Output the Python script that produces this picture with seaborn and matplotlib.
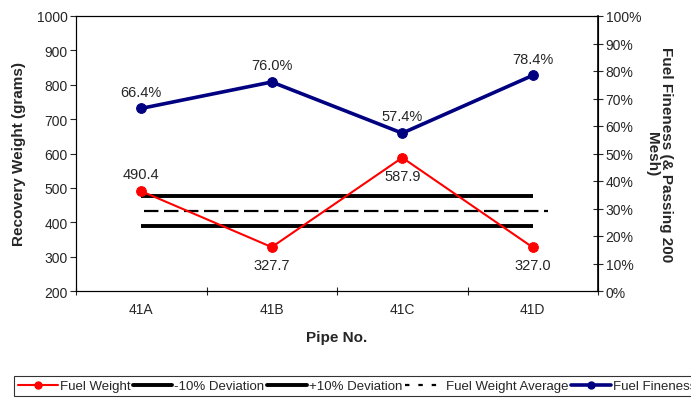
import pandas as pd
import matplotlib.pyplot as plt
import matplotlib.ticker as mticker
from matplotlib.lines import Line2D
import seaborn as sns

# Data
pipes = ["41A", "41B", "41C", "41D"]
fuel_weight = [490.4, 327.7, 587.9, 327.0]
fineness = [66.4, 76.0, 57.4, 78.4]
weight_label_pos = ["above", "below", "below", "below"]

avg = sum(fuel_weight) / len(fuel_weight)
dev_low = avg * 0.9
dev_high = avg * 1.1

df = pd.DataFrame({"Pipe": pipes, "Weight": fuel_weight, "Fineness": fineness})

sns.set_style("ticks")
plt.rcParams["font.family"] = ["Liberation Sans", "DejaVu Sans"]

fig = plt.figure(figsize=(6.91, 4.02), dpi=100)
ax = fig.add_axes([76/691, 1-292/402, 522/691, 275/402])
ax2 = ax.twinx()

RED = "#ff0000"
NAVY = "#000080"

# +/- 10% deviation and average lines
ax.hlines([dev_low, dev_high], 0, 3, color="black", lw=2.8, zorder=2)
ax.hlines(avg, 0.02, 3.12, color="black", lw=1.6, linestyles=(0, (6.5, 2.5)), zorder=2)

sns.lineplot(data=df, x="Pipe", y="Weight", ax=ax, color=RED, lw=1.5,
             marker="o", markersize=7, markeredgecolor=RED, zorder=3)
sns.lineplot(data=df, x="Pipe", y="Fineness", ax=ax2, color=NAVY, lw=2.6,
             marker="o", markersize=7, markeredgecolor=NAVY, zorder=3)

for i, (w, pos) in enumerate(zip(fuel_weight, weight_label_pos)):
    if pos == "above":
        ax.annotate(f"{w:.1f}", (i, w), xytext=(0, 7), textcoords="offset points",
                    ha="center", va="bottom", fontsize=10.5)
    else:
        ax.annotate(f"{w:.1f}", (i, w), xytext=(0, -8), textcoords="offset points",
                    ha="center", va="top", fontsize=10.5)

for i, f in enumerate(fineness):
    ax2.annotate(f"{f:.1f}%", (i, f), xytext=(0, 7), textcoords="offset points",
                 ha="center", va="bottom", fontsize=10.5)

ax.set_xlim(-0.5, 3.5)
ax.set_ylim(200, 1000)
ax.set_yticks(range(200, 1001, 100))
ax2.set_ylim(0, 100)
ax2.set_yticks(range(0, 101, 10))
ax2.yaxis.set_major_formatter(mticker.FuncFormatter(lambda v, p: f"{v:.0f}%"))

ax.set_xticks(range(len(pipes)))
ax.set_xticklabels(pipes)
ax.set_xticks([-0.5, 0.5, 1.5, 2.5, 3.5], minor=True)
ax.tick_params(axis="x", which="major", length=0, labelsize=10, pad=8)
ax.tick_params(axis="x", which="minor", direction="inout", length=6, width=0.8)
ax.tick_params(axis="y", direction="out", length=4, width=0.8, labelsize=10, pad=2)
ax2.tick_params(axis="y", direction="inout", length=7, width=0.8, labelsize=10, pad=2)

for sp in ax.spines.values():
    sp.set_linewidth(0.8)
    sp.set_color("black")
for sp in ax2.spines.values():
    sp.set_linewidth(0.8)
    sp.set_color("black")
ax2.spines["right"].set_linewidth(1.2)

ax.set_xlabel("Pipe No.", fontsize=11, fontweight="bold", labelpad=10)
ax.set_ylabel("Recovery Weight (grams)", fontsize=11, fontweight="bold", labelpad=8)
ax2.set_ylabel("Fuel Fineness (& Passing 200\nMesh)", fontsize=11, fontweight="bold",
               rotation=270, labelpad=23, linespacing=1.0)

handles = [
    Line2D([], [], color=RED, lw=1.5, marker="o", markersize=5),
    Line2D([], [], color="black", lw=2.8),
    Line2D([], [], color="black", lw=2.8),
    Line2D([], [], color="black", lw=1.6, linestyle=(0, (2, 4))),
    Line2D([], [], color=NAVY, lw=2.6, marker="o", markersize=5),
]
labels = ["Fuel Weight", "-10% Deviation", "+10% Deviation", "Fuel Weight Average", "Fuel Fineness"]
leg = fig.legend(handles, labels, loc="upper left", bbox_to_anchor=(14/691, 1-377/402),
                 ncol=5, fontsize=9.5, frameon=True, fancybox=False, edgecolor="black",
                 handlelength=3.0, handletextpad=0.15, columnspacing=0.2, borderpad=0.3,
                 borderaxespad=0)
leg.get_frame().set_linewidth(0.8)

fig.savefig("out.png", dpi=100)
